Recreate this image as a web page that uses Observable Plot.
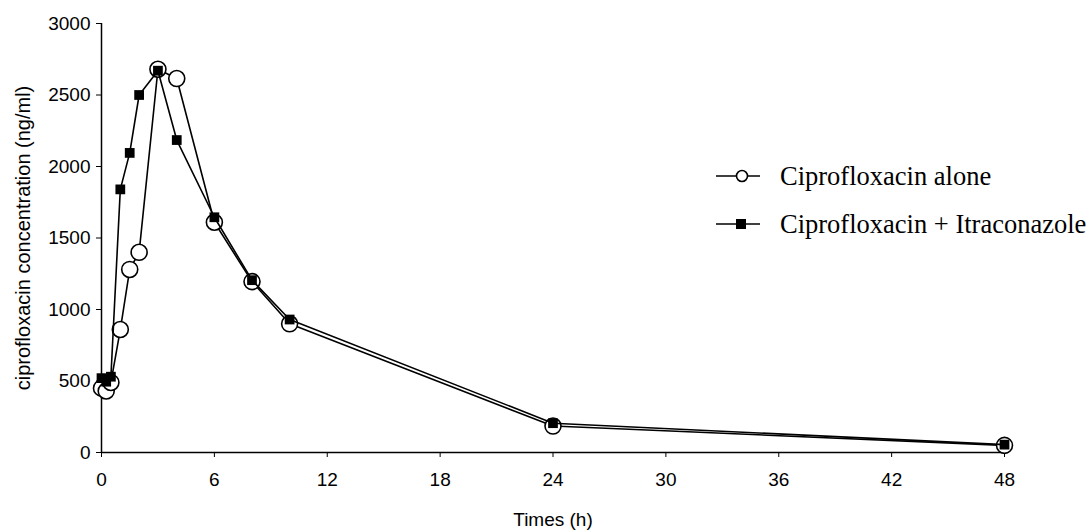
<!DOCTYPE html>
<html>
<head>
<meta charset="utf-8">
<script src="https://cdn.jsdelivr.net/npm/d3@7"></script>
<script src="https://cdn.jsdelivr.net/npm/@observablehq/plot@0.6"></script>
<style>
  html, body { margin: 0; padding: 0; background: #fff; }
  #wrap { position: relative; width: 1091px; height: 531px; }
  #legend { position: absolute; left: 715px; top: 152px; font-family: "Liberation Serif", "Times New Roman", serif; font-size: 26.5px; color: #000; white-space: nowrap; }
  .row { display: flex; align-items: center; height: 48px; }
  .row svg { margin-right: 19px; flex: none; }
</style>
</head>
<body>
<div id="wrap"></div>
<script>
const times = [0, 0.25, 0.5, 1, 1.5, 2, 3, 4, 6, 8, 10, 24, 48];
const alone = [450, 430, 490, 860, 1280, 1400, 2680, 2615, 1610, 1195, 900, 185, 50];
const itra  = [520, 495, 530, 1840, 2095, 2500, 2670, 2185, 1645, 1205, 930, 205, 55];
const seriesNames = ["Ciprofloxacin alone", "Ciprofloxacin + Itraconazole"];
const xTicks = [0, 6, 12, 18, 24, 30, 36, 42, 48];
const yTicks = [0, 500, 1000, 1500, 2000, 2500, 3000];
const xLabel = "Times (h)";
const yLabel = "ciprofloxacin concentration (ng/ml)";

const aloneData = times.map((t, i) => ({t, c: alone[i], s: seriesNames[0]}));
const itraData = times.map((t, i) => ({t, c: itra[i], s: seriesNames[1]}));

const chart = Plot.plot({
  width: 1091,
  height: 531,
  marginLeft: 101,
  marginRight: 87,
  marginTop: 23,
  marginBottom: 79,
  style: {fontFamily: "'Liberation Sans', Arial, sans-serif", fontSize: "19px", color: "#000", background: "#fff", overflow: "visible"},
  x: {domain: [0, 48]},
  y: {domain: [0, 3000]},
  marks: [
    Plot.axisX({ticks: xTicks, tickSize: 5, tickPadding: 15, tickFormat: d3.format("d"), label: null, stroke: "#000", fontSize: 19}),
    Plot.axisX({ticks: [], label: xLabel, labelAnchor: "center", labelOffset: 73, labelArrow: "none", fontSize: 19}),
    Plot.axisY({ticks: yTicks, tickSize: 5, tickPadding: 6, tickFormat: d3.format("d"), label: null, stroke: "#000", fontSize: 19}),
    Plot.axisY({ticks: [], label: yLabel, labelAnchor: "center", labelOffset: 86, labelArrow: "none", fontSize: 20}),
    Plot.ruleX([0], {stroke: "#000", strokeWidth: 1.5}),
    Plot.ruleY([0], {stroke: "#000", strokeWidth: 1.5}),
    Plot.line(aloneData, {x: "t", y: "c", stroke: "#000", strokeWidth: 1.6}),
    Plot.dot(aloneData, {x: "t", y: "c", r: 8, fill: "#fff", stroke: "#000", strokeWidth: 1.6}),
    Plot.line(itraData, {x: "t", y: "c", stroke: "#000", strokeWidth: 1.6}),
    Plot.dot(itraData, {x: "t", y: "c", r: 5.5, symbol: "square", fill: "#000", stroke: "none"})
  ]
});
const wrap = document.getElementById("wrap");
wrap.appendChild(chart);

const legend = document.createElement("div");
legend.id = "legend";
const swatches = [
  `<svg width="46" height="16"><line x1="1" y1="8" x2="45" y2="8" stroke="#000" stroke-width="1.6"/><circle cx="27" cy="8" r="5.5" fill="#fff" stroke="#000" stroke-width="1.6"/></svg>`,
  `<svg width="46" height="16"><line x1="1" y1="8" x2="45" y2="8" stroke="#000" stroke-width="1.6"/><rect x="21" y="3" width="10" height="10" fill="#000"/></svg>`
];
seriesNames.forEach((name, i) => {
  const row = document.createElement("div");
  row.className = "row";
  row.innerHTML = swatches[i] + `<span>${name}</span>`;
  legend.appendChild(row);
});
wrap.appendChild(legend);
</script>
</body>
</html>
